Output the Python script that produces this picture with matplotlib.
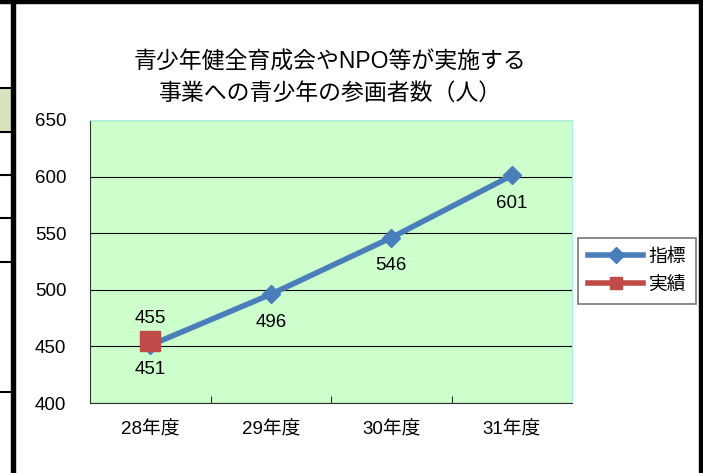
import matplotlib
matplotlib.use("Agg")
import matplotlib.pyplot as plt
from matplotlib.patches import Rectangle
from matplotlib.lines import Line2D

FONT = ['Liberation Sans', 'Noto Sans CJK JP', 'DejaVu Sans']
plt.rcParams['font.family'] = FONT

categories = ["28年度", "29年度", "30年度", "31年度"]
target = [451, 496, 546, 601]      # 指標
actual = [455]                     # 実績 (28年度のみ)
title = "青少年健全育成会やNPO等が実施する\n事業への青少年の参画者数（人）"

W, H = 703, 473
fig = plt.figure(figsize=(W / 100, H / 100), dpi=100)
fig.patch.set_facecolor("white")

def fx(x): return x / W
def fy(y): return 1 - y / H

# 周囲の枠（スクリーンショットの縁）
fig.patches.append(Rectangle((0, fy(3)), 1, 3 / H, transform=fig.transFigure, color="black", zorder=5))
fig.patches.append(Rectangle((fx(11), 0), 4 / W, 1, transform=fig.transFigure, color="black", zorder=5))
fig.patches.append(Rectangle((fx(699), 0), 4 / W, 1, transform=fig.transFigure, color="black", zorder=5))
fig.patches.append(Rectangle((0, fy(132)), 11 / W, 44 / H, transform=fig.transFigure,
                             facecolor="#d8e4bc", edgecolor="none", zorder=4))
for yy in [88, 132, 175, 218, 262, 392]:
    fig.lines.append(Line2D([0, fx(11)], [fy(yy), fy(yy)], transform=fig.transFigure,
                            color="black", lw=1.5, zorder=5))

ax = fig.add_axes([fx(90), fy(403), fx(572) - fx(90), (403 - 120) / H])
ax.set_facecolor("#ccffcc")
x = list(range(len(categories)))

ax.plot(x, target, color="#4a7ebb", lw=4, marker="D", ms=9, label="指標", zorder=3)
ax.plot(x[:len(actual)], actual, color="#be4b48", lw=4, marker="s", ms=14, label="実績", zorder=4)

for xi, v in zip(x, target):
    off = -11 if xi < len(actual) else -14
    ax.annotate(f"{v}", (xi, v), xytext=(0, off), textcoords="offset points",
                ha="center", va="top", fontsize=13.5)
for xi, v in zip(x, actual):
    ax.annotate(f"{v}", (xi, v), xytext=(0, 10), textcoords="offset points",
                ha="center", va="bottom", fontsize=13.5)

ax.set_xlim(-0.5, len(categories) - 0.5)
ax.set_ylim(400, 650)
ax.set_yticks(range(400, 651, 50))
ax.set_xticks(x)
ax.set_xticklabels(categories, fontsize=13.5)
ax.set_xticks([i - 0.5 for i in range(len(categories) + 1)], minor=True)
ax.tick_params(axis="x", which="major", length=0, pad=13)
ax.tick_params(axis="x", which="minor", length=5, direction="in")
ax.tick_params(axis="y", length=0, labelsize=13.5, pad=17)
ax.yaxis.grid(True, color="black", lw=0.8)
ax.set_axisbelow(True)
ax.spines["left"].set_color("#333333")
ax.spines["bottom"].set_color("#333333")
ax.spines["top"].set_color("#aaeeee")
ax.spines["right"].set_color("#aaeeee")

fig.text(fx(330), fy(78), title, ha="center", va="center", fontsize=16.5, linespacing=1.45)

leg = ax.legend(loc="upper left", bbox_to_anchor=(fx(578), fy(238)), bbox_transform=fig.transFigure,
                borderaxespad=0, frameon=True, fancybox=False, edgecolor="#555555", fontsize=13.5,
                handlelength=2.9, borderpad=0.55, labelspacing=0.6, handletextpad=0.3)
leg.get_frame().set_linewidth(1.2)
for h in leg.legend_handles:
    h.set_markersize(8)

fig.savefig("out.png", dpi=100)
